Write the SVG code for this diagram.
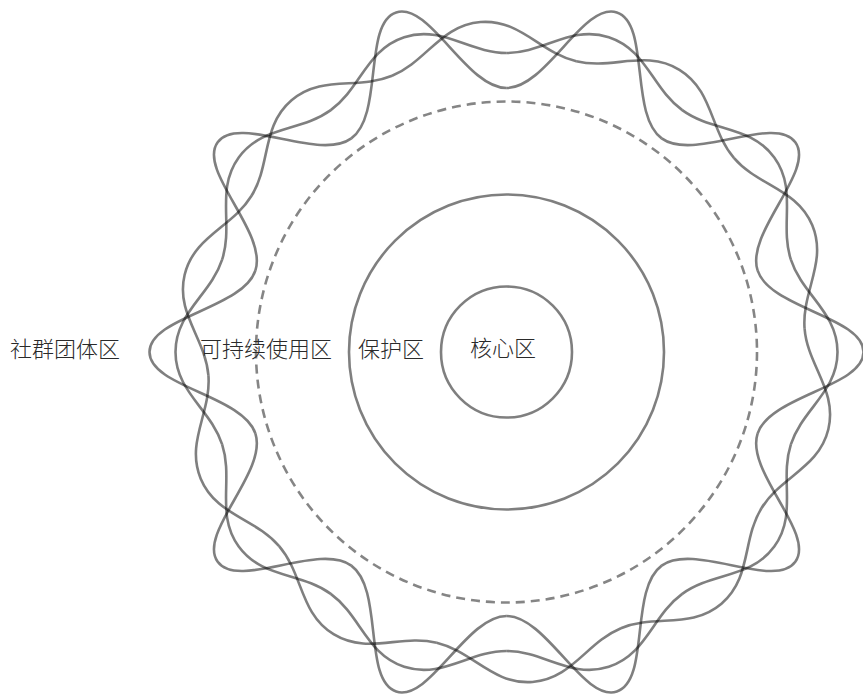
<svg xmlns="http://www.w3.org/2000/svg" width="863" height="694" viewBox="0 0 863 694">
<defs>
<style>
.ln{fill:none;stroke:#000;stroke-opacity:0.5;stroke-width:2.6;stroke-linecap:butt}
.dash{fill:none;stroke:#000;stroke-opacity:0.48;stroke-width:2.6;stroke-dasharray:9 6}
.lbl{font-family:"Noto Sans CJK SC","Noto Sans CJK JP",sans-serif;font-size:22px;font-weight:300;fill:#2a2a2a}
</style>
<path id="lobeA" d="M251.08,-81.58 C263.44,-43.54 357,-35 357,0 C357,35 263.44,43.54 251.08,81.58"/>
<path id="lobeB" d="M284.37,-92.40 C295.87,-57.02 331,-39.7 331,0 C331,39.7 295.87,57.02 284.37,92.40"/>
<g id="waveA">
<use href="#lobeA"/><use href="#lobeA" transform="rotate(36)"/><use href="#lobeA" transform="rotate(72)"/><use href="#lobeA" transform="rotate(108)"/><use href="#lobeA" transform="rotate(144)"/><use href="#lobeA" transform="rotate(180)"/><use href="#lobeA" transform="rotate(216)"/><use href="#lobeA" transform="rotate(252)"/><use href="#lobeA" transform="rotate(288)"/><use href="#lobeA" transform="rotate(324)"/>
</g>
<g id="waveB">
<use href="#lobeB"/><use href="#lobeB" transform="rotate(36)"/><use href="#lobeB" transform="rotate(72)"/><use href="#lobeB" transform="rotate(108)"/><use href="#lobeB" transform="rotate(144)"/><use href="#lobeB" transform="rotate(180)"/><use href="#lobeB" transform="rotate(216)"/><use href="#lobeB" transform="rotate(252)"/><use href="#lobeB" transform="rotate(288)"/><use href="#lobeB" transform="rotate(324)"/>
</g>
</defs>
<rect width="863" height="694" fill="#fff"/>
<g id="community">
<g class="ln" transform="translate(506.5,352)">
<use href="#waveA"/>
<use href="#waveB"/>
<use href="#waveB" transform="rotate(13.5)"/>
</g>
<text class="lbl" x="10" y="357">社群团体区</text>
</g>
<g id="sustainable">
<circle class="dash" cx="506.5" cy="352" r="250.5"/>
<text class="lbl" x="200" y="357">可持续使用区</text>
</g>
<g id="protection">
<circle class="ln" cx="506.5" cy="352" r="157.5"/>
<text class="lbl" x="358" y="357">保护区</text>
</g>
<g id="core">
<circle class="ln" cx="506.5" cy="352" r="65.5"/>
<text class="lbl" x="470" y="356">核心区</text>
</g>
</svg>
